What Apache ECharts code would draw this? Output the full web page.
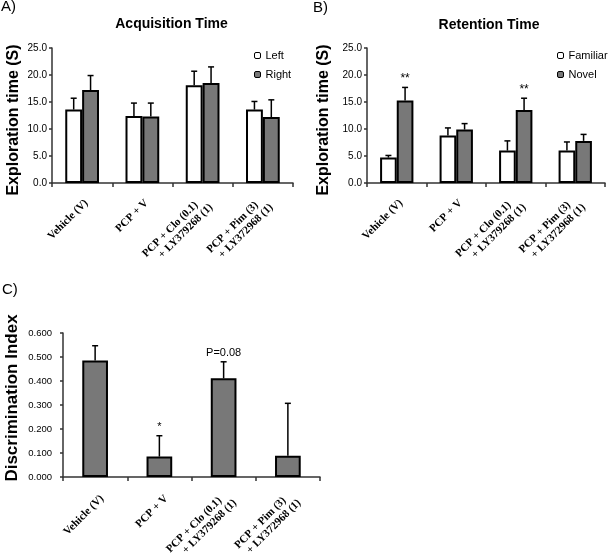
<!DOCTYPE html>
<html><head><meta charset="utf-8">
<script src="https://cdn.jsdelivr.net/npm/echarts@6/dist/echarts.min.js"></script>
<style>html,body{margin:0;padding:0;background:#fff}#c{width:609px;height:557px}</style>
</head><body><div id="c"></div>
<script>
// ---- data ----
const categories = ['Vehicle (V)', 'PCP + V', 'PCP + Clo (0.1)\n+ LY379268 (1)', 'PCP + Pim (3)\n+ LY372968 (1)'];
const acqLeft = [13.6, 12.4, 18.1, 13.6];
const acqLeftErr = [2.1, 2.4, 2.6, 1.5];
const acqRight = [17.2, 12.3, 18.5, 12.2];
const acqRightErr = [2.7, 2.5, 3.0, 3.2];
const retFamiliar = [4.7, 8.8, 6.0, 6.0];
const retFamiliarErr = [0.4, 1.4, 1.8, 1.6];
const retNovel = [15.3, 9.9, 13.5, 7.8];
const retNovelErr = [2.4, 1.1, 2.2, 1.2];
const retNovelSig = ['**', '', '**', ''];
const discIndex = [0.485, 0.085, 0.411, 0.089];
const discIndexErr = [0.062, 0.087, 0.069, 0.218];
const discSig = ['', '*', 'P=0.08', ''];
const timeTicks = [0, 25, 5];
const diTicks = [0, 0.6, 0.1];

const GRAY = '#787878';
const AX = '#333';
const SANS = 'Liberation Sans';
const SERIF = 'Liberation Serif';

function errSeries(xi, values, errs, offsetFrac, labels, labelSize) {
  return {
    type: 'custom', xAxisIndex: xi, yAxisIndex: xi, z: 5, silent: true,
    data: values.map((v, i) => [i, v, v + errs[i]]),
    encode: { x: 0, y: [1, 2] },
    renderItem(params, api) {
      const c = api.value(0);
      const base = api.coord([c, api.value(1)]);
      const top = api.coord([c, api.value(2)]);
      const band = api.size([1, 0])[0];
      const x = base[0] + offsetFrac * band;
      const children = [
        { type: 'line', shape: { x1: x, y1: base[1], x2: x, y2: top[1] }, style: { stroke: '#000', lineWidth: 1.5 } },
        { type: 'line', shape: { x1: x - 3, y1: top[1], x2: x + 3, y2: top[1] }, style: { stroke: '#000', lineWidth: 1.5 } }
      ];
      const lbl = labels ? labels[params.dataIndex] : '';
      if (lbl) children.push({ type: 'text', style: { text: lbl, x: x, y: top[1] - 3, align: 'center', verticalAlign: 'bottom', fontSize: labelSize, fontFamily: SANS, fill: '#000' } });
      return { type: 'group', children };
    }
  };
}

function xAx(gi, margin, pad, padRight) {
  const font = { fontFamily: SERIF, fontWeight: 'bold', fontSize: 11, color: '#000' };
  return {
    type: 'category', gridIndex: gi, data: categories, boundaryGap: true,
    axisLine: { lineStyle: { color: AX, width: 1.5 } },
    axisTick: { show: true, length: 4, alignWithLabel: false, lineStyle: { color: AX, width: 1.5 } },
    axisLabel: Object.assign({
      interval: 0, rotate: 45, margin: margin, padding: [pad, padRight, 0, 0], lineHeight: 12,
      formatter: v => { const p = v.split('\n'); return p.length === 1 ? v : '{a|' + p[0] + '}\n{b|' + p[1] + '}'; },
      rich: { a: Object.assign({ padding: [0, 9, 0, 0], lineHeight: 12 }, font), b: Object.assign({ lineHeight: 12 }, font) }
    }, font)
  };
}

function yAx(gi, ticks, name, nameGap, nameSize, labelSize, labelMargin, decimals, namePad) {
  return {
    type: 'value', gridIndex: gi, min: ticks[0], max: ticks[1], interval: ticks[2],
    name: name, nameLocation: 'middle', nameGap: nameGap,
    nameTextStyle: { fontSize: nameSize, fontWeight: 'bold', fontFamily: SANS, color: '#000', padding: namePad },
    axisLine: { show: true, lineStyle: { color: AX, width: 1.5 } },
    axisTick: { show: true, length: 3, lineStyle: { color: AX, width: 1.5 } },
    splitLine: { show: false },
    axisLabel: { formatter: v => v.toFixed(decimals), fontSize: labelSize, fontFamily: SANS, color: '#000', margin: labelMargin }
  };
}

function bar(name, xi, values, color, width) {
  return {
    name: name, type: 'bar', xAxisIndex: xi, yAxisIndex: xi, data: values,
    barWidth: width, barGap: '0%',
    itemStyle: { color: color, borderColor: '#000', borderWidth: 2 },
    emphasis: { disabled: true }
  };
}

const chart = echarts.init(document.getElementById('c'), null, { renderer: 'canvas' });
const legendBase = { orient: 'vertical', padding: 0, itemWidth: 6, itemHeight: 6, itemGap: 8, selectedMode: false,
  textStyle: { fontSize: 11, fontFamily: SANS, color: '#000' }, itemStyle: { borderColor: '#000', borderWidth: 1 } };
chart.setOption({
  animation: false,
  backgroundColor: '#fff',
  grid: [
    { left: 52, top: 48, width: 241, height: 135, outerBoundsMode: 'none' },
    { left: 367, top: 48, width: 238, height: 135, outerBoundsMode: 'none' },
    { left: 63, top: 333, width: 257, height: 144, outerBoundsMode: 'none' }
  ],
  legend: [
    Object.assign({ left: 254, top: 50, data: ['Left', 'Right'] }, legendBase),
    Object.assign({ left: 557, top: 50, data: ['Familiar', 'Novel'] }, legendBase)
  ],
  xAxis: [xAx(0, 7, 22, 5), xAx(1, 7, 22, 5), xAx(2, 10, 24, 2)],
  yAxis: [
    yAx(0, timeTicks, 'Exploration time (S)', 30, 16, 10, 5, 1, [0, 9, 0, 0]),
    yAx(1, timeTicks, 'Exploration time (S)', 35, 16, 10, 5, 1, [0, 9, 0, 0]),
    yAx(2, diTicks, 'Discrimination Index', 42, 17, 9.5, 11, 3, [0, 0, 0, 14])
  ],
  graphic: [
    { type: 'text', x: 1, y: -1, style: { text: 'A)', fontSize: 15, fontFamily: SANS, fill: '#000', align: 'left', verticalAlign: 'top' } },
    { type: 'text', x: 313, y: 0, style: { text: 'B)', fontSize: 15, fontFamily: SANS, fill: '#000', align: 'left', verticalAlign: 'top' } },
    { type: 'text', x: 2, y: 282, style: { text: 'C)', fontSize: 15, fontFamily: SANS, fill: '#000', align: 'left', verticalAlign: 'top' } },
    { type: 'text', x: 171.5, y: 24, style: { text: 'Acquisition Time', fontSize: 14, fontWeight: 'bold', fontFamily: SANS, fill: '#000', align: 'center', verticalAlign: 'middle' } },
    { type: 'text', x: 489, y: 25, style: { text: 'Retention Time', fontSize: 14, fontWeight: 'bold', fontFamily: SANS, fill: '#000', align: 'center', verticalAlign: 'middle' } }
  ],
  series: [
    bar('Left', 0, acqLeft, '#fff', '28%'),
    bar('Right', 0, acqRight, GRAY, '28%'),
    errSeries(0, acqLeft, acqLeftErr, -0.14),
    errSeries(0, acqRight, acqRightErr, 0.14),
    bar('Familiar', 1, retFamiliar, '#fff', '28%'),
    bar('Novel', 1, retNovel, GRAY, '28%'),
    errSeries(1, retFamiliar, retFamiliarErr, -0.14),
    errSeries(1, retNovel, retNovelErr, 0.14, retNovelSig, 12),
    bar('DI', 2, discIndex, GRAY, '40%'),
    errSeries(2, discIndex, discIndexErr, 0, discSig, 11)
  ]
});
</script></body></html>
